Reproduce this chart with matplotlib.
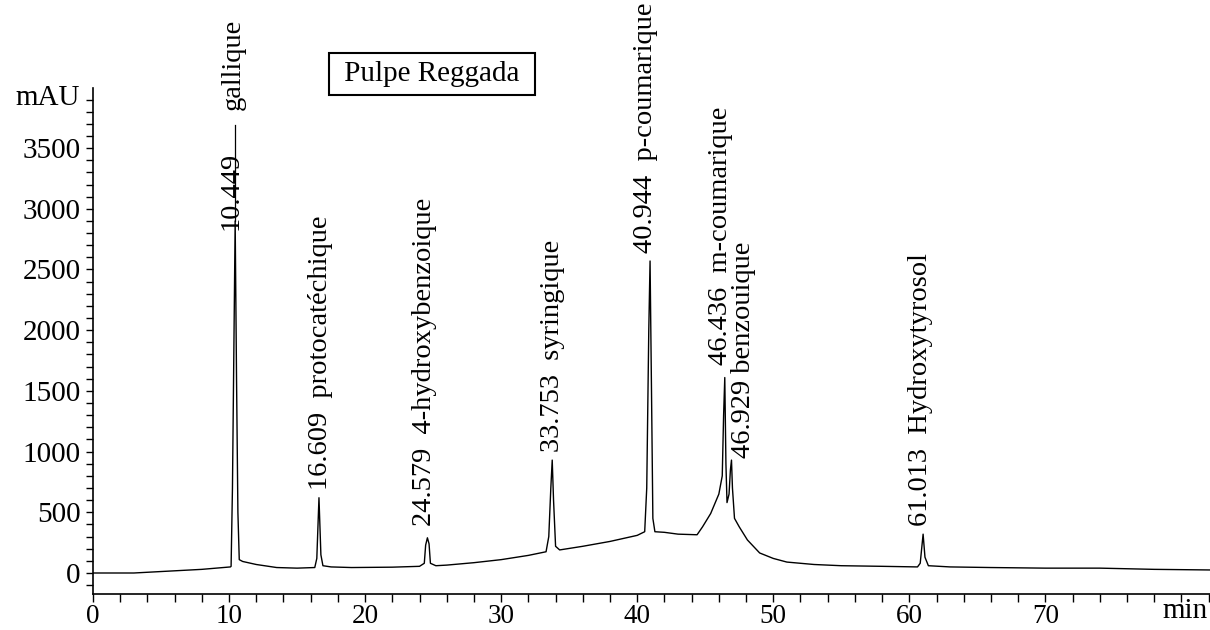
import numpy as np
import matplotlib
matplotlib.use('Agg')
import matplotlib.pyplot as plt
from matplotlib.ticker import MultipleLocator

plt.rcParams['font.family'] = ['Liberation Serif', 'DejaVu Serif']

# ---------------- chromatogram trace -----------------------------------------
time_min = [0, 3, 5, 8, 10.1, 10.15, 10.25, 10.35, 10.449, 10.55, 10.65, 10.75,
            11.0, 12, 13.5, 15, 16.3, 16.45, 16.609, 16.75, 16.9, 17.5, 19, 22,
            24, 24.35, 24.45, 24.579, 24.7, 24.8, 25.2, 26, 28, 30, 32, 33.3,
            33.5, 33.65, 33.753, 33.85, 34.0, 34.3, 36, 38, 40, 40.55, 40.7,
            40.85, 40.944, 41.05, 41.15, 41.3, 42, 43, 44.4, 44.8, 45.4, 46.0,
            46.25, 46.35, 46.436, 46.52, 46.6, 46.75, 46.85, 46.929, 47.0,
            47.15, 47.5, 48.1, 49, 50, 51, 53, 55, 58, 60.6, 60.8, 61.013,
            61.15, 61.4, 63, 66, 70, 74, 78, 82.1]
absorb_mau = [0, 0, 12, 30, 50, 55, 700, 1800, 2900, 1600, 500, 110,
              95, 70, 45, 40, 45, 120, 620, 150, 60, 50, 45, 48,
              55, 80, 230, 290, 240, 80, 60, 65, 85, 110, 145, 175,
              300, 700, 930, 600, 220, 190, 220, 260, 310, 340, 700,
              2000, 2570, 1500, 450, 340, 335, 320, 315, 380, 490, 650,
              800, 1300, 1610, 900, 580, 650, 850, 930, 700,
              450, 380, 272, 165, 120, 90, 70, 60, 55, 50, 80, 320,
              130, 60, 50, 45, 40, 40, 30, 25]

# ---------------- peak annotations ------------------------------------------
peak_rt = ['10.449', '16.609', '24.579', '33.753', '40.944', '46.436', '46.929', '61.013']
peak_names = ['gallique', 'protocatéchique', '4-hydroxybenzoique', 'syringique',
              'p-coumarique', 'm-coumarique', 'benzouique', 'Hydroxytyrosol']
label_x = [10.15, 16.7, 24.4, 33.75, 40.6, 46.1, 47.8, 60.8]
label_base = [2825, 684, 390, 1000, 2635, 1713, 950, 390]
name_sep = ['', '  ', '  ', '  ', '  ', '  ', ' ', '  ']

# gallique has its name on a leader line above the retention time
leader_x = 10.449
leader_y = [2900, 3690]
gallique_x = 10.3
gallique_base = 3815

x_labels = [0, 10, 20, 30, 40, 50, 60, 70]
y_labels = [0, 500, 1000, 1500, 2000, 2500, 3000, 3500]

fig = plt.figure(figsize=(12.1, 6.3), dpi=100)
ax = fig.add_axes([93 / 1210, 36 / 630, 1 - 93 / 1210, 506 / 630])

ax.plot(time_min, absorb_mau, color='k', lw=1.0)
ax.plot([leader_x, leader_x], leader_y, color='k', lw=0.9)

fs = 20.5
for i, rt in enumerate(peak_rt):
    if i == 0:
        ax.text(label_x[i], label_base[i], rt, rotation=90, ha='center', va='bottom', fontsize=fs)
        ax.text(gallique_x, gallique_base, peak_names[i], rotation=90, ha='center',
                va='bottom', fontsize=fs)
    else:
        ax.text(label_x[i], label_base[i], rt + name_sep[i] + peak_names[i], rotation=90,
                ha='center', va='bottom', fontsize=fs)

# sample name box
ax.text(24.9, 4110, ' Pulpe Reggada ', ha='center', va='center', fontsize=21,
        bbox=dict(boxstyle='square,pad=0.28', fc='white', ec='k', lw=1.5))

ax.set_xlim(0, 82.1)
ax.set_ylim(-173, 3995)

ax.spines['top'].set_visible(False)
ax.spines['right'].set_visible(False)
ax.spines['left'].set_linewidth(1.2)
ax.spines['bottom'].set_linewidth(1.2)

ax.set_xticks(x_labels)
ax.xaxis.set_minor_locator(MultipleLocator(2))
ax.set_yticks(y_labels)
ax.yaxis.set_minor_locator(MultipleLocator(100))

ax.tick_params(axis='both', which='both', direction='out', width=1.0)
ax.tick_params(axis='x', which='both', length=6, pad=1, labelsize=19.5)
ax.tick_params(axis='y', which='both', length=5, pad=4, labelsize=21)

ax.text(-1.0, 3913, 'mAU', ha='right', va='center', fontsize=21)
fig.text(0.998, 12 / 630, 'min', ha='right', va='baseline', fontsize=21)

fig.savefig('out.png', dpi=100)
